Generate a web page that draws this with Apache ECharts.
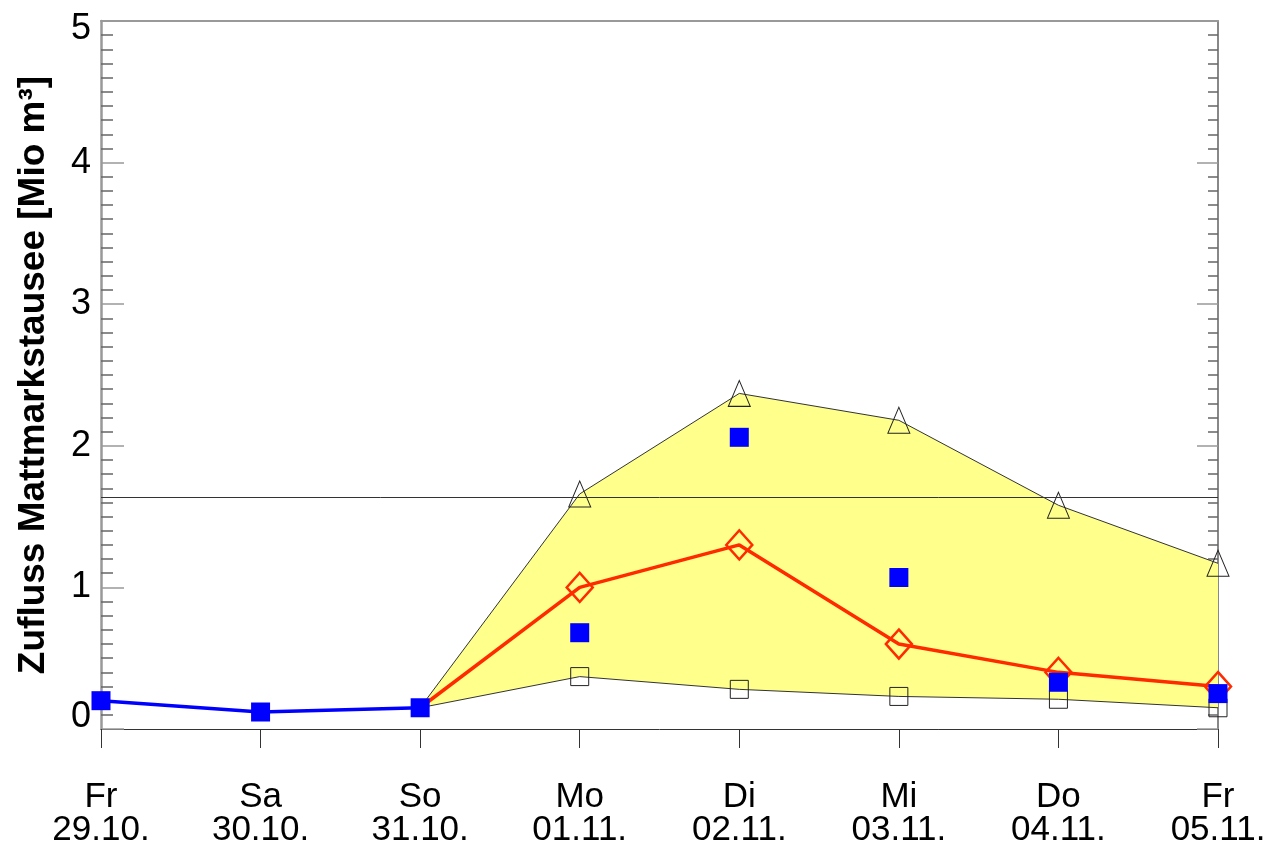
<!DOCTYPE html>
<html>
<head>
<meta charset="utf-8">
<script src="https://cdn.jsdelivr.net/npm/echarts@6/dist/echarts.min.js"></script>
<style>
html,body{margin:0;padding:0;background:#fff;}
#chart{width:1271px;height:851px;}
</style>
</head>
<body>
<div id="chart"></div>
<script>
// ---- data ----
var days = ['Fr', 'Sa', 'So', 'Mo', 'Di', 'Mi', 'Do', 'Fr'];
var dates = ['29.10.', '30.10.', '31.10.', '01.11.', '02.11.', '03.11.', '04.11.', '05.11.'];
var observed = [0.20, 0.12, 0.15, null, null, null, null, null];
var forecastMean = [null, null, 0.15, 1.00, 1.30, 0.60, 0.40, 0.30];
var forecastUpper = [null, null, 0.15, 1.66, 2.37, 2.18, 1.58, 1.17];
var forecastLower = [null, null, 0.15, 0.37, 0.28, 0.23, 0.21, 0.15];
var measured = [null, null, null, 0.68, 2.06, 1.07, 0.33, 0.25];
var thresholdValue = 1.64;
var yTicks = [0, 1, 2, 3, 4, 5];
var forecastStart = 2; // forecast series start at the last observed day (no marker there)

var categories = days.map(function (d, i) { return d + '\n' + dates[i]; });
var bandDiff = forecastUpper.map(function (u, i) {
  return (u == null || forecastLower[i] == null) ? null : +(u - forecastLower[i]).toFixed(4);
});
function hideStartMarker(arr) {
  return arr.map(function (v, i) { return i === forecastStart ? {value: v, symbol: 'none'} : v; });
}

var font = 'Liberation Sans, Arial, Helvetica, sans-serif';
var chart = echarts.init(document.getElementById('chart'), null, {renderer: 'canvas'});
chart.setOption({
  backgroundColor: '#ffffff',
  animation: false,
  grid: {left: 101, right: 53, top: 21, bottom: 122, containLabel: false},
  xAxis: [{
    type: 'category',
    data: categories,
    boundaryGap: false,
    position: 'bottom',
    axisLine: {show: true, onZero: false, lineStyle: {color: '#333', width: 1}},
    axisTick: {show: true, inside: false, length: 19, lineStyle: {color: '#333', width: 1}},
    axisLabel: {
      show: true, margin: 52, color: '#000', fontFamily: font, fontSize: 35,
      lineHeight: 33, interval: 0, align: 'center'
    },
    splitLine: {show: false}
  }, {
    type: 'category',
    data: categories,
    boundaryGap: false,
    position: 'top',
    axisLine: {show: true, onZero: false, lineStyle: {color: '#999', width: 2}},
    axisTick: {show: false},
    axisLabel: {show: false},
    splitLine: {show: false}
  }],
  yAxis: [{
    type: 'value',
    min: yTicks[0], max: yTicks[yTicks.length - 1], interval: 1,
    position: 'left',
    name: 'Zufluss Mattmarkstausee [Mio m\u00B3]',
    nameLocation: 'middle',
    nameRotate: 90,
    nameGap: 49,
    nameTextStyle: {fontFamily: font, fontSize: 37, fontWeight: 'bold', color: '#000'},
    axisLine: {show: true, lineStyle: {color: '#999', width: 2.5}},
    axisTick: {show: true, inside: true, length: 23, lineStyle: {color: '#999', width: 1.5}},
    minorTick: {show: true, splitNumber: 10, length: 12, lineStyle: {color: '#666', width: 1.5}},
    axisLabel: {
      show: true, margin: 10, color: '#000', fontFamily: font, fontSize: 36,
      formatter: function (v) {
        if (v === yTicks[0]) return '{lo|' + v + '}';
        if (v === yTicks[yTicks.length - 1]) return '{hi|' + v + '}';
        return String(v);
      },
      rich: {
        lo: {fontFamily: font, fontSize: 36, color: '#000', padding: [0, 0, 24, 0]},
        hi: {fontFamily: font, fontSize: 36, color: '#000', padding: [16, 0, 0, 0]}
      }
    },
    splitLine: {show: false}
  }, {
    type: 'value',
    min: yTicks[0], max: yTicks[yTicks.length - 1], interval: 1,
    position: 'right',
    axisLine: {show: true, lineStyle: {color: '#888', width: 2}},
    axisTick: {show: true, inside: true, length: 21, lineStyle: {color: '#999', width: 1.5}},
    minorTick: {show: true, splitNumber: 10, length: 10, lineStyle: {color: '#666', width: 1.5}},
    axisLabel: {show: false},
    splitLine: {show: false}
  }],
  series: [
    {
      name: 'bandBase', type: 'line', stack: 'band', data: forecastLower,
      symbol: 'none', lineStyle: {width: 0, opacity: 0}, silent: true, z: 1
    },
    {
      name: 'band', type: 'line', stack: 'band', data: bandDiff,
      symbol: 'none', lineStyle: {width: 0, opacity: 0},
      areaStyle: {color: '#ffff8c', opacity: 1}, silent: true, z: 1
    },
    {
      name: 'threshold', type: 'line', data: [], z: 3,
      markLine: {
        silent: true, symbol: 'none', label: {show: false},
        lineStyle: {color: '#333', width: 1, type: 'solid'},
        data: [{yAxis: thresholdValue}]
      }
    },
    {
      name: 'upper', type: 'line', data: hideStartMarker(forecastUpper), z: 4,
      lineStyle: {color: '#333', width: 1},
      symbol: 'triangle', symbolSize: [22, 26], showAllSymbol: true,
      itemStyle: {color: 'rgba(0,0,0,0)', borderColor: '#222', borderWidth: 1}
    },
    {
      name: 'lower', type: 'line', data: hideStartMarker(forecastLower), z: 4,
      lineStyle: {color: '#333', width: 1},
      symbol: 'rect', symbolSize: 18, showAllSymbol: true,
      itemStyle: {color: 'rgba(0,0,0,0)', borderColor: '#222', borderWidth: 1}
    },
    {
      name: 'mean', type: 'line', data: hideStartMarker(forecastMean), z: 5,
      lineStyle: {color: '#ff2a00', width: 3.5},
      symbol: 'diamond', symbolSize: [26, 29], showAllSymbol: true,
      itemStyle: {color: 'rgba(0,0,0,0)', borderColor: '#ff2a00', borderWidth: 2.5}
    },
    {
      name: 'observed', type: 'line', data: observed, z: 6,
      lineStyle: {color: '#0000ff', width: 3.5},
      symbol: 'rect', symbolSize: 19, showAllSymbol: true,
      itemStyle: {color: '#0000ff', borderWidth: 0, opacity: 1}
    },
    {
      name: 'measured', type: 'scatter', data: measured, z: 7,
      symbol: 'rect', symbolSize: 19,
      itemStyle: {color: '#0000ff', borderWidth: 0, opacity: 1}
    }
  ]
});
</script>
</body>
</html>
